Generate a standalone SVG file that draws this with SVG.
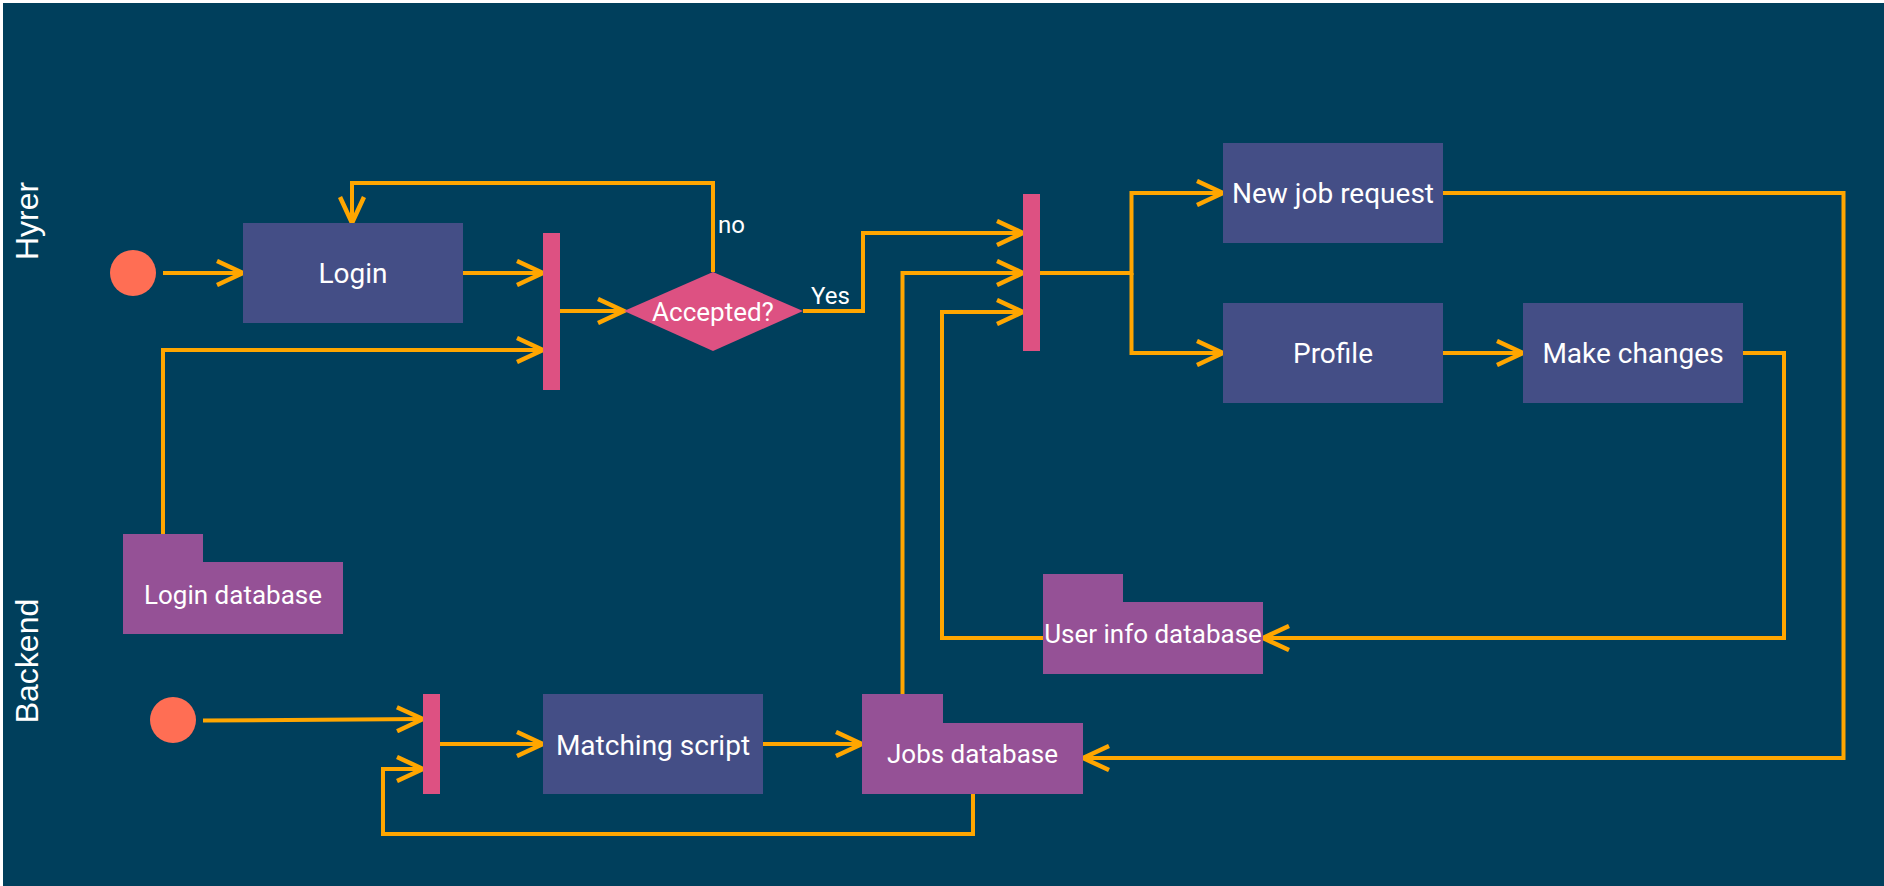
<svg xmlns="http://www.w3.org/2000/svg" width="1884" height="886" viewBox="0 0 1884 886">
<defs>
<style>
.bg{fill:#ffffff}
.lane{fill:#003f5c}
.act{fill:#444e86}
.db{fill:#955196}
.bar{fill:#dd5182}
.start{fill:#ff6e54}
.t{font-family:Roboto,"Liberation Sans",sans-serif;fill:#ffffff;text-anchor:middle}
.t28{font-size:28px}
.t26{font-size:26px}
.lbl{font-family:Roboto,"Liberation Sans",sans-serif;fill:#ffffff;font-size:24px}
.lanelbl{font-family:"Liberation Sans",Arial,sans-serif;fill:#ffffff;font-size:32px;text-anchor:middle}
.c{fill:none;stroke:#ffa600;stroke-width:4;marker-end:url(#arr)}
</style>
<marker id="arr" viewBox="0 0 30 28" refX="27" refY="14" markerWidth="30" markerHeight="28" markerUnits="userSpaceOnUse" orient="auto">
<path d="M1,2 L27,14 L1,26" fill="none" stroke="#ffa600" stroke-width="4.5"/>
</marker>
</defs>
<rect class="bg" x="0" y="0" width="1884" height="886"/>
<rect class="lane" x="3" y="3" width="1881" height="883"/>
<text class="lanelbl" transform="translate(38,221) rotate(-90)">Hyrer</text>
<text class="lanelbl" transform="translate(38,661) rotate(-90)">Backend</text>

<g id="connectors">
<path class="c" d="M163,273 H243"/>
<path class="c" d="M463,273 H543"/>
<path class="c" d="M560,311 H624"/>
<path class="c" d="M163,534 V350 H543"/>
<path class="c" d="M713,272 V183 H352 V223"/>
<path class="c" d="M803,311 H863 V233 H1023"/>
<path class="c" d="M902.5,694 V273 H1023"/>
<path class="c" d="M1043,638 H942 V312 H1023"/>
<path class="c" d="M1040,273 H1131.5 V193 H1223"/>
<path class="c" d="M1131.5,273 V353 H1223"/>
<path class="c" d="M1443,353 H1523"/>
<path class="c" d="M1743,353 H1784 V638 H1263"/>
<path class="c" d="M1443,193 H1843.5 V758 H1083"/>
<path class="c" d="M203,720.5 L423,719"/>
<path class="c" d="M973,794 V834 H383 V769 H423"/>
<path class="c" d="M440,744 H543"/>
<path class="c" d="M763,744 H862"/>
<text class="lbl" x="718" y="233">no</text>
<text class="lbl" x="811" y="304">Yes</text>
</g>

<g id="start1"><ellipse class="start" cx="133" cy="273" rx="23" ry="23"/></g>
<g id="start2"><circle class="start" cx="173" cy="720" r="23"/></g>

<g id="login"><rect class="act" x="243" y="223" width="220" height="100"/><text class="t t28" x="353" y="283">Login</text></g>
<g id="bar1"><rect class="bar" x="543" y="233" width="17" height="157"/></g>
<g id="accepted"><polygon class="bar" points="624,311 713,272 803,311 713,351"/><text class="t t26" x="713" y="321">Accepted?</text></g>
<g id="bar2"><rect class="bar" x="1023" y="194" width="17" height="157"/></g>
<g id="newjob"><rect class="act" x="1223" y="143" width="220" height="100"/><text class="t t28" x="1333" y="203">New job request</text></g>
<g id="profile"><rect class="act" x="1223" y="303" width="220" height="100"/><text class="t t28" x="1333" y="363">Profile</text></g>
<g id="makechanges"><rect class="act" x="1523" y="303" width="220" height="100"/><text class="t t28" x="1633" y="363">Make changes</text></g>

<g id="logindb"><path class="db" d="M123,534 H203 V562 H343 V634 H123 Z"/><text class="t t26" x="233" y="604">Login database</text></g>
<g id="userdb"><path class="db" d="M1043,574 H1123 V602 H1263 V674 H1043 Z"/><text class="t t26" x="1153" y="643">User info database</text></g>
<g id="jobsdb"><path class="db" d="M862,694 H943 V723 H1083 V794 H862 Z"/><text class="t t26" x="972.5" y="763">Jobs database</text></g>

<g id="bar3"><rect class="bar" x="423" y="694" width="17" height="100"/></g>
<g id="matching"><rect class="act" x="543" y="694" width="220" height="100"/><text class="t t28" x="653" y="755">Matching script</text></g>
</svg>
